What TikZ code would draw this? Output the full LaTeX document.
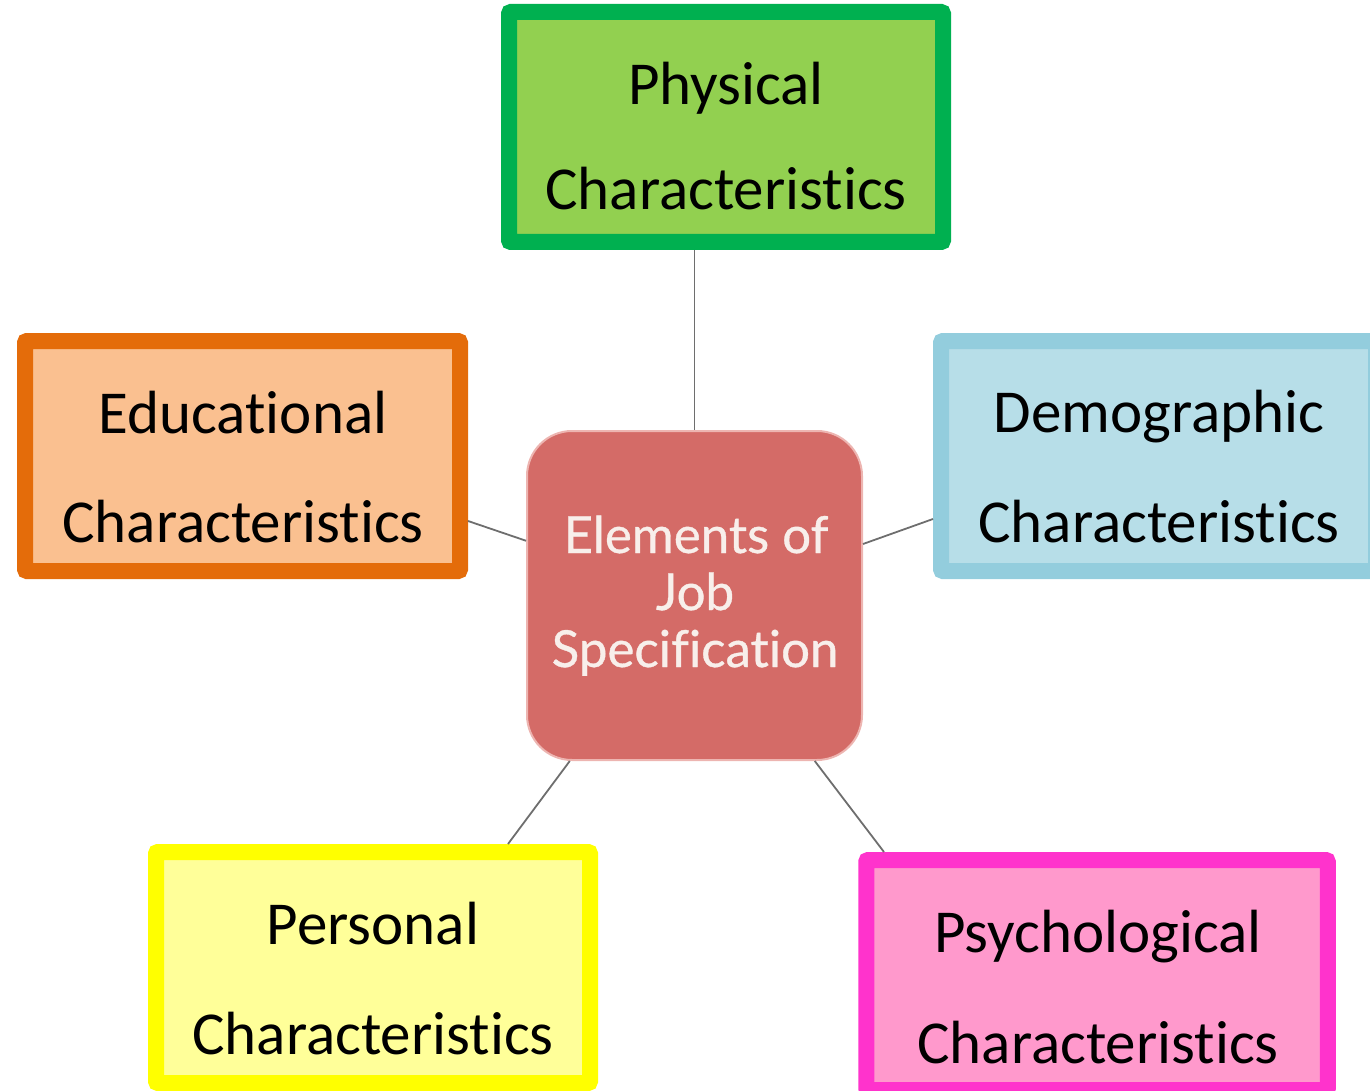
\documentclass[tikz,border=0pt]{standalone}
\usepackage{fontspec}
\setmainfont{Carlito}[Ligatures={NoCommon}]
\newfontfamily\centerfont{Lato}[Ligatures={NoCommon}, FakeBold=0.7]
\newcommand\ChrText{Characterist\kern0pt ics}
\definecolor{physB}{HTML}{00B050}
\definecolor{physF}{HTML}{92D050}
\definecolor{eduB}{HTML}{E46C0A}
\definecolor{eduF}{HTML}{FAC090}
\definecolor{demoB}{HTML}{93CDDD}
\definecolor{demoF}{HTML}{B7DEE8}
\definecolor{persB}{HTML}{FFFF00}
\definecolor{persF}{HTML}{FFFF99}
\definecolor{psyB}{HTML}{FF33CC}
\definecolor{psyF}{HTML}{FF99CC}
\definecolor{centF}{HTML}{D46B67}
\definecolor{centR}{HTML}{EDB5B1}
\definecolor{centT}{HTML}{F8EFEB}
\definecolor{linkC}{HTML}{6E6E6E}
\begin{document}
\begin{tikzpicture}[x=1pt,y=-1pt,
  charbox/.style={rectangle, line width=16pt, rounded corners=2pt, inner sep=0pt, outer sep=8pt},
  lbl/.style={anchor=base, inner sep=0pt, outer sep=0pt, font=\fontsize{61}{61}\selectfont},
  clbl/.style={anchor=base, inner sep=0pt, outer sep=0pt, text=centT, font=\centerfont\fontsize{51}{51}\selectfont},
  link/.style={draw=linkC, line width=1.8pt}]
\useasboundingbox (0,0) rectangle (1370,1091);
\clip (0,0) rectangle (1370,1091);
% centre node
\node[rectangle, rounded corners=45pt, fill=centF, draw=centR, line width=2pt,
      minimum width=335pt, minimum height=329pt, inner sep=0pt, outer sep=1pt] (cnode) at (694.5,595.5) {};
\node[clbl] (ct1) at (696,553) {Elements of};
\node[clbl] (ct2) at (695,610) {Job};
\node[clbl] (ct3) at (695,667) {Specificat\kern0pt ion};
% outer boxes
\node[charbox, draw=physB, fill=physF, minimum width=434pt, minimum height=230pt] (phys) at (726,127) {};
\node[charbox, draw=eduB, fill=eduF, minimum width=435pt, minimum height=230pt] (edu) at (242.5,456) {};
\node[charbox, draw=demoB, fill=demoF, minimum width=435pt, minimum height=230pt] (demo) at (1158.5,456) {};
\node[charbox, draw=persB, fill=persF, minimum width=434pt, minimum height=231pt] (pers) at (373,967.5) {};
\node[charbox, draw=psyB, fill=psyF, minimum width=461.5pt, minimum height=230pt] (psy) at (1097,975) {};
% labels
\node[lbl] (phys1) at (726,105) {Physical};
\node[lbl] (phys2) at (726,210) {\ChrText};
\node[lbl] (edu1) at (243,433) {Educational};
\node[lbl] (edu2) at (243,542) {\ChrText};
\node[lbl] (demo1) at (1159,432) {Demographic};
\node[lbl] (demo2) at (1159,542) {\ChrText};
\node[lbl] (pers1) at (373,944) {Personal};
\node[lbl] (pers2) at (373,1054) {\ChrText};
\node[lbl] (psy1) at (1098,952) {Psychological};
\node[lbl] (psy2) at (1098,1063) {\ChrText};
% connectors
\draw[link] (phys.south -| cnode.north) -- (cnode.north);
\draw[link] ([yshift=-65pt]edu.east) -- (cnode.162);
\draw[link] ([yshift=-63pt]demo.west) -- (cnode.17);
\draw[link] ([xshift=135pt]pers.north) -- (cnode.233);
\draw[link] ([xshift=-213pt]psy.north) -- (cnode.306);
\end{tikzpicture}
\end{document}
